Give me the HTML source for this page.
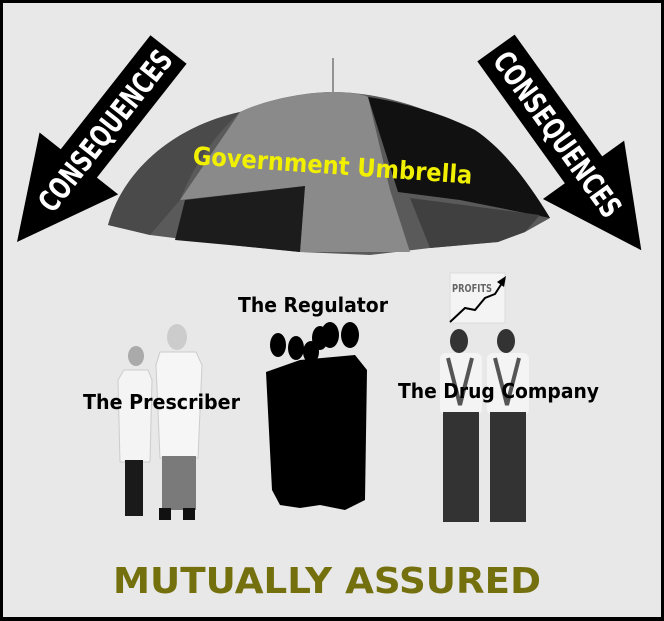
<!DOCTYPE html>
<html><head><style>
html,body{margin:0;padding:0;background:#000;}
svg{display:block}
</style></head><body>
<svg width="664" height="621" viewBox="0 0 664 621" xmlns="http://www.w3.org/2000/svg" font-family="'DejaVu Sans','Liberation Sans',sans-serif">
<rect x="0" y="0" width="664" height="621" fill="#000"/>
<rect x="3" y="3" width="658" height="614" fill="#e8e8e8"/>

<g transform="translate(17,242) rotate(-51.8)">
<polygon points="0,0 100,-50 100,-23 245,-23 245,23 100,23 100,50" fill="#000"/>
<text x="142" y="11" fill="#fff" font-size="30" font-weight="bold" text-anchor="middle" textLength="196" lengthAdjust="spacingAndGlyphs">CONSEQUENCES</text>
</g>

<g transform="translate(496,48) rotate(54.3)">
<polygon points="0,-23 150,-23 150,-50 249,0 150,50 150,23 0,23" fill="#000"/>
<text x="106" y="11" fill="#fff" font-size="30" font-weight="bold" text-anchor="middle" textLength="196" lengthAdjust="spacingAndGlyphs">CONSEQUENCES</text>
</g>

<line x1="333" y1="58" x2="333" y2="95" stroke="#777" stroke-width="1.5"/>
<path d="M108,225 C125,165 180,125 240,112 C270,98 310,92 333,92 C360,92 395,98 430,112 C490,135 525,175 550,218 L525,232 L498,242 L430,248 L370,255 L300,252 L240,246 L190,240 L150,235 Z" fill="#5a5a5a"/>
<path d="M240,112 C270,98 310,92 333,92 C350,92 362,94 368,97 L390,190 L410,252 L300,252 L305,186 L180,200 Z" fill="#8a8a8a"/>
<path d="M368,97 C400,102 440,112 475,130 C505,150 530,185 550,218 L460,200 L398,192 Z" fill="#111"/>
<path d="M185,200 L305,186 L300,252 L240,246 L175,240 Z" fill="#1c1c1c"/>
<path d="M108,225 C125,165 180,125 240,112 C210,140 192,170 180,200 L150,235 Z" fill="#4a4a4a"/>
<path d="M410,198 L540,215 L525,232 L498,242 L430,248 Z" fill="#404040"/>
<text x="0" y="0" transform="translate(332,174) rotate(4)" fill="#f0f000" font-size="25" font-weight="bold" text-anchor="middle" textLength="280" lengthAdjust="spacingAndGlyphs">Government Umbrella</text>

<g>
<ellipse cx="136" cy="356" rx="8" ry="10" fill="#aaa"/>
<path d="M124,370 L148,370 L152,380 L150,462 L120,462 L118,380 Z" fill="#f4f4f4" stroke="#ccc"/>
<rect x="125" y="460" width="18" height="56" fill="#1a1a1a"/>
<ellipse cx="177" cy="337" rx="10" ry="13" fill="#ccc"/>
<path d="M160,352 L196,352 L202,365 L198,458 L160,458 L156,365 Z" fill="#f6f6f6" stroke="#ccc"/>
<rect x="162" y="456" width="34" height="54" fill="#7a7a7a"/>
<rect x="159" y="508" width="12" height="12" fill="#111"/>
<rect x="183" y="508" width="12" height="12" fill="#111"/>
</g>
<text x="83" y="409" font-size="20" font-weight="bold" fill="#000" textLength="157" lengthAdjust="spacingAndGlyphs">The Prescriber</text>

<g fill="#000">
<ellipse cx="278" cy="345" rx="8" ry="12"/><ellipse cx="296" cy="348" rx="8" ry="12"/>
<ellipse cx="311" cy="352" rx="8" ry="11"/><ellipse cx="320" cy="338" rx="8" ry="12"/>
<ellipse cx="330" cy="335" rx="9" ry="13"/><ellipse cx="350" cy="335" rx="9" ry="13"/>
<path d="M266,372 L300,360 L355,355 L367,370 L365,500 L345,510 L320,505 L300,508 L280,505 L272,490 Z"/>
</g>
<text x="238" y="312" font-size="20" font-weight="bold" fill="#000" textLength="150" lengthAdjust="spacingAndGlyphs">The Regulator</text>

<g>
<rect x="450" y="273" width="55" height="50" fill="#f4f4f4" stroke="#ddd"/>
<text x="452" y="292" font-size="11" font-weight="bold" fill="#666" textLength="40" lengthAdjust="spacingAndGlyphs">PROFITS</text>
<polyline points="450,322 465,308 475,310 485,298 495,294 504,280" fill="none" stroke="#000" stroke-width="2"/>
<polygon points="506,276 497,282 504,287" fill="#000"/>
<ellipse cx="459" cy="341" rx="9" ry="12" fill="#333"/>
<ellipse cx="506" cy="341" rx="9" ry="12" fill="#333"/>
<rect x="440" y="353" width="42" height="62" rx="6" fill="#f4f4f4"/>
<rect x="487" y="353" width="42" height="62" rx="6" fill="#f4f4f4"/>
<path d="M448,358 L460,405 L472,358" fill="none" stroke="#555" stroke-width="4"/>
<path d="M495,358 L507,405 L519,358" fill="none" stroke="#555" stroke-width="4"/>
<rect x="443" y="412" width="36" height="110" fill="#333"/>
<rect x="490" y="412" width="36" height="110" fill="#333"/>
</g>
<text x="398" y="398" font-size="20" font-weight="bold" fill="#000" textLength="201" lengthAdjust="spacingAndGlyphs">The Drug Company</text>

<text x="113" y="593" font-size="36" font-weight="bold" fill="#74700e" textLength="428" lengthAdjust="spacingAndGlyphs">MUTUALLY ASSURED</text>
</svg>
</body></html>
